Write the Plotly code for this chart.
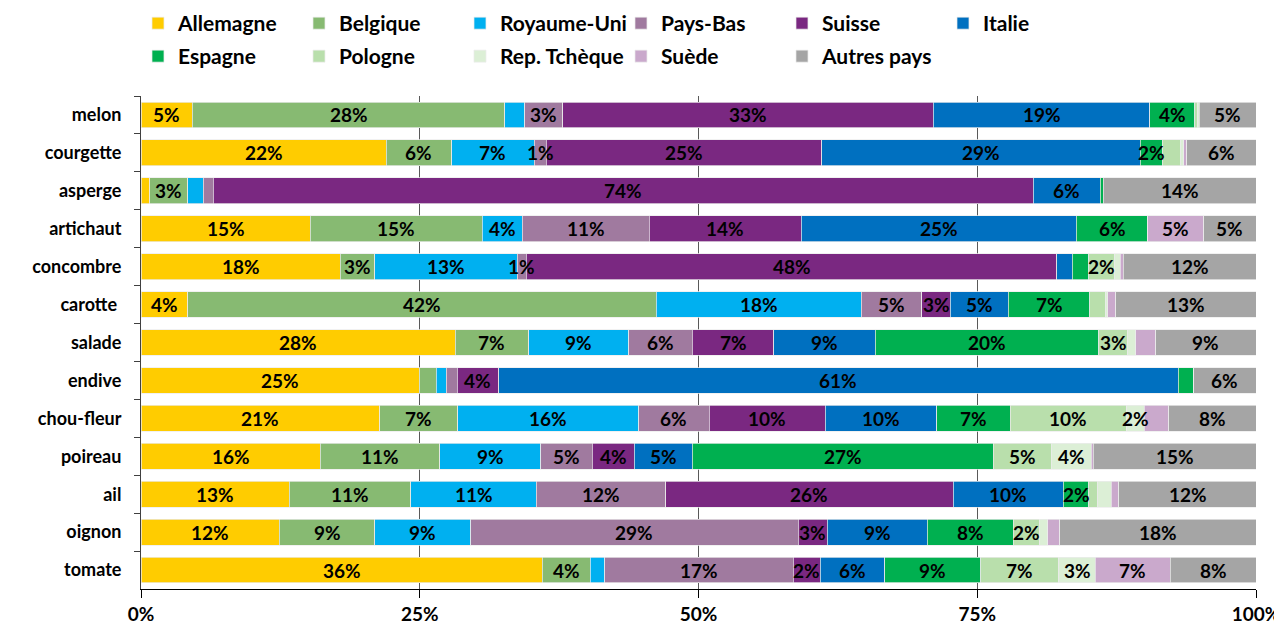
import plotly.graph_objects as go

# ---------------- data ----------------
categories = ["melon", "courgette", "asperge", "artichaut", "concombre", "carotte ",
              "salade", "endive", "chou-fleur", "poireau", "ail", "oignon", "tomate"]

countries = ["Allemagne", "Belgique", "Royaume-Uni", "Pays-Bas", "Suisse", "Italie",
             "Espagne", "Pologne", "Rep. Tchèque", "Suède", "Autres pays"]

allemagne   = [4.6, 22.0, 0.8, 15.2, 17.9, 4.2, 28.2, 25.0, 21.4, 16.1, 13.3, 12.4, 36.0]
belgique    = [28.0, 5.9, 3.4, 15.4, 3.1, 42.0, 6.6, 1.5, 7.0, 10.7, 10.9, 8.6, 4.3]
royaume_uni = [1.8, 7.4, 1.4, 3.6, 12.8, 18.4, 9.0, 0.9, 16.2, 9.1, 11.3, 8.6, 1.3]
pays_bas    = [3.4, 1.1, 0.9, 11.4, 0.8, 5.4, 5.7, 1.0, 6.3, 4.6, 11.6, 29.4, 16.9]
suisse      = [33.2, 24.7, 73.6, 13.6, 47.6, 2.6, 7.3, 3.7, 10.4, 3.8, 25.8, 2.6, 2.4]
italie      = [19.4, 28.6, 6.0, 24.7, 1.4, 5.2, 9.1, 61.0, 10.0, 5.2, 9.9, 9.0, 5.8]
espagne     = [4.0, 2.0, 0.3, 6.4, 1.5, 7.3, 20.1, 1.4, 6.6, 27.0, 2.3, 7.7, 8.6]
pologne     = [0.3, 1.6, 0.0, 0.0, 2.3, 1.4, 2.6, 0.0, 10.4, 5.2, 0.8, 2.4, 7.0]
rep_tcheque = [0.1, 0.3, 0.0, 0.0, 0.5, 0.2, 0.7, 0.0, 1.6, 3.6, 1.2, 0.7, 3.3]
suede       = [0.0, 0.3, 0.0, 5.0, 0.3, 0.7, 1.8, 0.0, 2.2, 0.2, 0.7, 1.1, 6.7]
autres      = [5.1, 6.2, 13.7, 4.7, 11.9, 12.6, 9.0, 5.6, 7.8, 14.6, 12.3, 17.6, 7.7]

series = [allemagne, belgique, royaume_uni, pays_bas, suisse, italie,
          espagne, pologne, rep_tcheque, suede, autres]

# data labels: shown when >= 2 %, with these exceptions
label_extra_show = {("courgette", "Pays-Bas"), ("concombre", "Pays-Bas"),
                    ("chou-fleur", "Rep. Tchèque")}
label_extra_hide = {("chou-fleur", "Suède")}

colors = ["#FFCC00", "#87BA72", "#00B0F0", "#A07A9F", "#7A2881", "#0070C0",
          "#00B050", "#B9DFAC", "#DCEFD6", "#CAA9CC", "#A5A5A5"]

# ---------------- figure ----------------
FONT = "Lato"
row_sums = [sum(s[i] for s in series) for i in range(len(categories))]
norm = [[s[i] / row_sums[i] * 100 for i in range(len(categories))] for s in series]

fig = go.Figure()
for k, (name, vals) in enumerate(zip(countries, norm)):
    fig.add_trace(go.Bar(
        y=categories, x=vals, name=name, orientation="h",
        marker=dict(color=colors[k], line=dict(color="rgba(235,235,235,0.9)", width=0.8)),
        legend="legend" if k < 6 else "legend2",
        hoverinfo="skip",
    ))

annotations = []
for i, cat in enumerate(categories):
    start = 0.0
    for k, name in enumerate(countries):
        raw = series[k][i]
        w = norm[k][i]
        key = (cat.strip(), name)
        show = (raw >= 2 or key in label_extra_show) and key not in label_extra_hide
        if show:
            annotations.append(dict(
                x=start + w / 2, y=cat, xref="x", yref="y",
                text=f"{round(raw)}%", showarrow=False,
                font=dict(family=FONT, size=19, color="#000000", weight="bold"),
            ))
        start += w

legend_common = dict(
    orientation="h", xanchor="left", yanchor="top", x=-0.0027,
    entrywidth=116, entrywidthmode="pixels", traceorder="normal",
    font=dict(family=FONT, size=21, color="#000000", weight="bold"),
    bgcolor="rgba(0,0,0,0)", itemclick=False, itemdoubleclick=False,
)

fig.update_layout(
    width=1282, height=628,
    margin=dict(l=133, r=34, t=88, b=47, autoexpand=False),
    barmode="stack", bargap=0.32,
    plot_bgcolor="white", paper_bgcolor="white",
    font=dict(family=FONT, size=18, color="#000000", weight="bold"),
    legend=dict(**legend_common, y=1.1886),
    legend2=dict(**legend_common, y=1.1217),
    annotations=annotations,
    xaxis=dict(
        range=[0, 100], tickvals=[0, 25, 50, 75, 100],
        ticktext=["0%", "25%", "50%", "75%", "100%"],
        showgrid=True, gridcolor="#595959", gridwidth=1,
        zeroline=False, showline=True, linecolor="#000000", linewidth=1,
        ticks="outside", ticklen=8, tickcolor="#000000", automargin=False,
        tickfont=dict(family=FONT, size=19, color="#000000", weight="bold"),
        fixedrange=True,
    ),
    yaxis=dict(
        categoryorder="array", categoryarray=categories, autorange="reversed",
        showline=True, linecolor="#404040", linewidth=1, automargin=False,
        ticks="outside", ticklen=6, tickcolor="#404040", tickson="boundaries",
        ticklabelstandoff=15,
        tickfont=dict(family=FONT, size=18, color="#000000", weight="bold"),
        showgrid=False, fixedrange=True,
    ),
    showlegend=True,
)

fig.write_html("out.html")
